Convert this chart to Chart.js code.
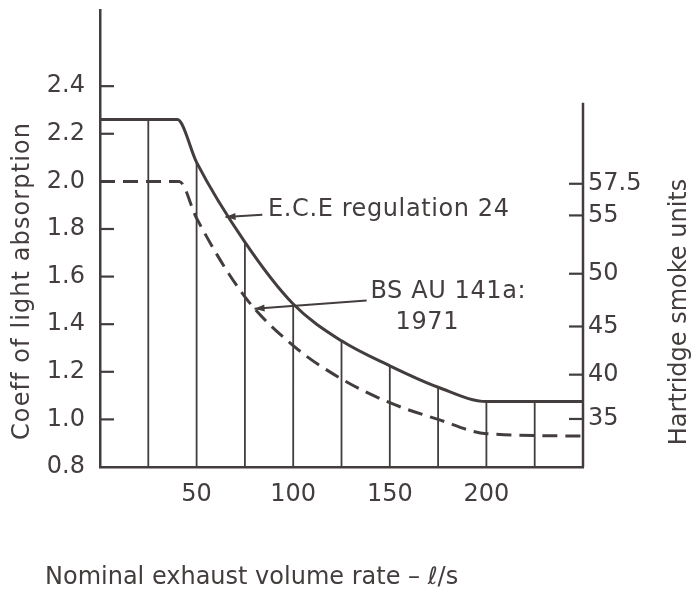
<!DOCTYPE html>
<html>
<head>
<meta charset="utf-8">
<script src="https://cdn.jsdelivr.net/npm/chart.js@4.4.1/dist/chart.umd.min.js"></script>
<style>
  html, body { margin: 0; padding: 0; background: #fff; }
  #wrap { width: 696px; height: 594px; }
</style>
</head>
<body>
<div id="wrap"><canvas id="smokeChart" width="696" height="594"></canvas></div>
<script>
// values (coeff of light absorption vs flow rate)
var eceX = [0, 40, 50, 75, 100, 125, 150, 175, 200, 250];
var eceY = [2.26, 2.26, 2.08, 1.745, 1.485, 1.33, 1.225, 1.135, 1.075, 1.075];
var bsX = [0, 41, 50, 75, 100, 125, 150, 175, 200, 250];
var bsY = [2.0, 2.0, 1.845, 1.515, 1.31, 1.17, 1.07, 1.0, 0.94, 0.93];
// thin vertical lines hanging from the E.C.E curve
var dropX = [25, 50, 75, 100, 125, 150, 175, 200, 225];
var dropTop = [2.26, 2.08, 1.745, 1.485, 1.33, 1.225, 1.135, 1.075, 1.075];
var rightAxisTop = 2.33;
var xTicks = [50, 100, 150, 200];
var leftTicks = [0.8, 1.0, 1.2, 1.4, 1.6, 1.8, 2.0, 2.2, 2.4];
var hsuTicks = [35, 40, 45, 50, 55, 57.5];

var ink = '#433e3d';
var fontFam = '"DejaVu Sans", sans-serif';

// Hartridge units -> absorption coefficient (0.43 m tube)
function hsuToK(n) {
    return -Math.log(1 - n / 100) / 0.43;
}

function toPoints(xs, ys) {
    return xs.map(function (x, i) { return { x: x, y: ys[i] }; });
}

var dropPoints = [];
dropX.forEach(function (x, i) {
    dropPoints.push({ x: x, y: 0.8 }, { x: x, y: dropTop[i] }, { x: x, y: null });
});

// labels with leader arrows, in data units
var notes = [
    { tip: [65, 1.85], tail: [84, 1.86], texts: [['E.C.E regulation 24', 87, 1.88]] },
    { tip: [80, 1.465], tail: [138, 1.50], texts: [['BS AU 141a:', 140, 1.535], ['1971', 153, 1.405]] }
];

var extras = {
    id: 'extras',
    afterDraw: function (chart) {
        var ctx = chart.ctx;
        var xs = chart.scales.x, ys = chart.scales.y, y2 = chart.scales.y2;
        var area = chart.chartArea;
        ctx.save();
        ctx.strokeStyle = ink;
        ctx.fillStyle = ink;

        // tick marks pointing into the plot
        ctx.lineWidth = 2.2;
        leftTicks.forEach(function (v) {
            if (v === 0.8) return;
            var py = ys.getPixelForValue(v);
            ctx.beginPath(); ctx.moveTo(area.left, py); ctx.lineTo(area.left + 14, py); ctx.stroke();
        });
        hsuTicks.forEach(function (n) {
            var py = y2.getPixelForValue(hsuToK(n));
            ctx.beginPath(); ctx.moveTo(area.right, py); ctx.lineTo(area.right - 14, py); ctx.stroke();
        });

        // right hand axis line
        ctx.lineWidth = 2.5;
        ctx.beginPath();
        ctx.moveTo(area.right, y2.getPixelForValue(0.8));
        ctx.lineTo(area.right, y2.getPixelForValue(rightAxisTop));
        ctx.stroke();

        // annotations
        notes.forEach(function (n) {
            var tx = xs.getPixelForValue(n.tip[0]), ty = ys.getPixelForValue(n.tip[1]);
            var sx = xs.getPixelForValue(n.tail[0]), sy = ys.getPixelForValue(n.tail[1]);
            ctx.lineWidth = 2;
            ctx.beginPath(); ctx.moveTo(sx, sy); ctx.lineTo(tx, ty); ctx.stroke();
            var a = Math.atan2(ty - sy, tx - sx);
            ctx.beginPath();
            ctx.moveTo(tx, ty);
            ctx.lineTo(tx - 10 * Math.cos(a) + 3.5 * Math.sin(a), ty - 10 * Math.sin(a) - 3.5 * Math.cos(a));
            ctx.lineTo(tx - 10 * Math.cos(a) - 3.5 * Math.sin(a), ty - 10 * Math.sin(a) + 3.5 * Math.cos(a));
            ctx.closePath(); ctx.fill();
            ctx.font = '24px ' + fontFam;
            ctx.letterSpacing = '0.6px';
            ctx.textAlign = 'left';
            ctx.textBaseline = 'middle';
            n.texts.forEach(function (t) {
                ctx.fillText(t[0], xs.getPixelForValue(t[1]), ys.getPixelForValue(t[2]));
            });
        });

        // axis titles
        ctx.font = '24px ' + fontFam;
        ctx.textBaseline = 'middle';
        ctx.textAlign = 'center';
        ctx.save();
        ctx.letterSpacing = '1.1px';
        ctx.translate(23, 281); ctx.rotate(-Math.PI / 2);
        ctx.fillText('Coeff of light absorption', 0, 0);
        ctx.restore();
        ctx.save();
        ctx.letterSpacing = '0px';
        ctx.translate(680, 312); ctx.rotate(-Math.PI / 2);
        ctx.fillText('Hartridge smoke units', 0, 0);
        ctx.restore();
        ctx.letterSpacing = '0px';
        ctx.textAlign = 'left';
        ctx.fillText('Nominal exhaust volume rate \u2013 \u2113/s', 45, 578);
        ctx.restore();
    }
};

var tickFont = { family: fontFam, size: 24 };

// keep chart area where the figure has it
function noPad(s) {
    s.paddingTop = 0; s.paddingBottom = 0; s.paddingLeft = 0; s.paddingRight = 0;
}

new Chart(document.getElementById('smokeChart').getContext('2d'), {
    type: 'line',
    data: {
        datasets: [{
            label: 'E.C.E regulation 24',
            data: toPoints(eceX, eceY),
            borderColor: ink,
            borderWidth: 3,
            cubicInterpolationMode: 'monotone',
            pointRadius: 0
        }, {
            label: 'BS AU 141a: 1971',
            data: toPoints(bsX, bsY),
            borderColor: ink,
            borderWidth: 3,
            borderDash: [15, 8],
            cubicInterpolationMode: 'monotone',
            pointRadius: 0
        }, {
            label: 'drops',
            data: dropPoints,
            borderColor: ink,
            borderWidth: 1.8,
            spanGaps: false,
            pointRadius: 0
        }]
    },
    options: {
        responsive: false,
        animation: false,
        layout: { padding: { left: 0, right: 0, top: 10, bottom: 0 } },
        plugins: { legend: { display: false }, tooltip: { enabled: false } },
        scales: {
            x: {
                type: 'linear',
                min: 0,
                max: 250,
                afterFit: function (s) { s.height = 127; noPad(s); },
                afterBuildTicks: function (s) { s.ticks = xTicks.map(function (v) { return { value: v }; }); },
                grid: { display: false, drawTicks: false },
                border: { display: true, color: ink, width: 2.5 },
                ticks: { color: ink, font: tickFont, padding: 13, autoSkip: false, maxRotation: 0 }
            },
            y: {
                position: 'left',
                min: 0.8,
                max: 2.72,
                afterFit: function (s) { s.width = 100; noPad(s); },
                afterBuildTicks: function (s) { s.ticks = leftTicks.map(function (v) { return { value: v }; }); },
                grid: { display: false, drawTicks: false },
                border: { display: true, color: ink, width: 2.5 },
                ticks: {
                    color: ink, font: tickFont, padding: 15, autoSkip: false,
                    callback: function (v) { return v.toFixed(1); }
                }
            },
            y2: {
                position: 'right',
                min: 0.8,
                max: 2.72,
                afterFit: function (s) { s.width = 113; noPad(s); },
                afterBuildTicks: function (s) { s.ticks = hsuTicks.map(function (n) { return { value: hsuToK(n) }; }); },
                grid: { display: false, drawTicks: false },
                border: { display: false },
                ticks: {
                    color: ink, font: tickFont, padding: 5, autoSkip: false,
                    callback: function (v, i) { return String(hsuTicks[i]); }
                }
            }
        }
    },
    plugins: [extras]
});
</script>
</body>
</html>
